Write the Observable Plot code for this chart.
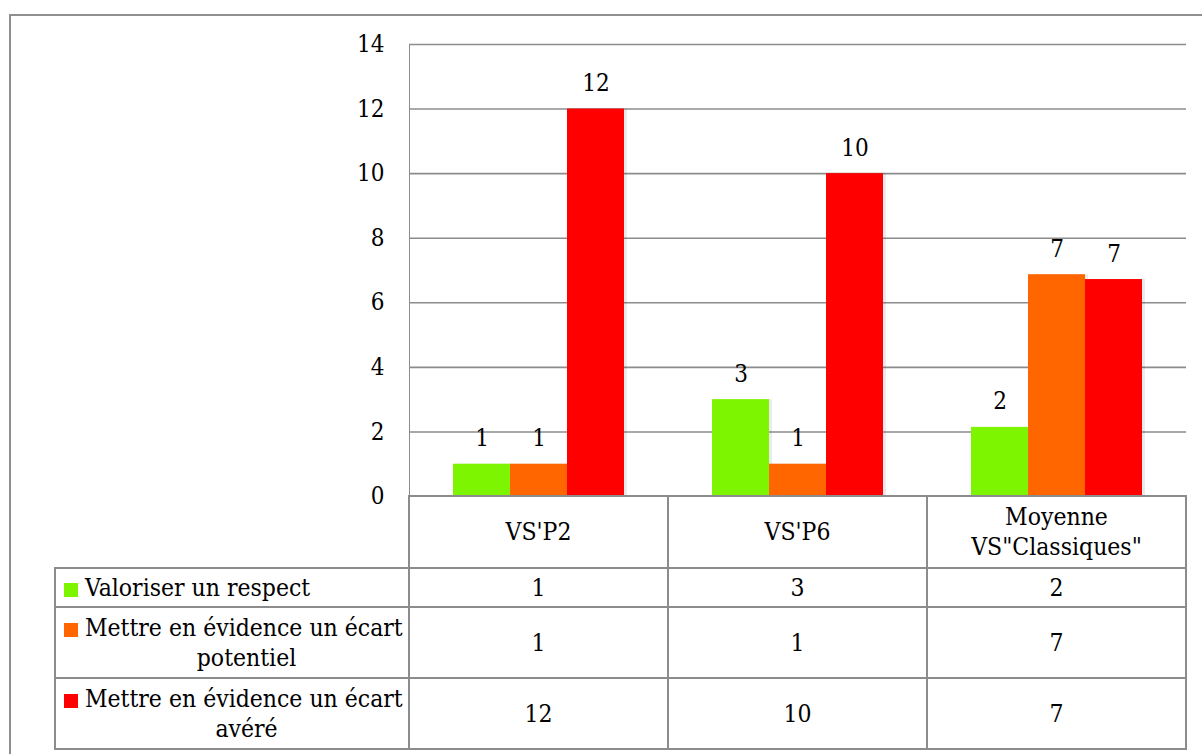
<!DOCTYPE html>
<html>
<head>
<meta charset="utf-8">
<script src="https://cdn.jsdelivr.net/npm/d3@7"></script>
<script src="https://cdn.jsdelivr.net/npm/@observablehq/plot@0.6"></script>
<style>
  html, body { margin: 0; padding: 0; background: #fff; overflow: hidden; }
  #wrap { position: relative; width: 1202px; height: 754px; overflow: hidden;
          font-family: "DejaVu Serif Condensed", "DejaVu Serif", serif; font-stretch: condensed; }
  #frame { position: absolute; left: 9px; top: 14px; width: 1300px; height: 900px;
           border: 2px solid #8f8f8f; box-sizing: border-box; }
  #chart { position: absolute; left: 0; top: 0; }
  #chart svg text { fill: #000; }
  .cell { position: absolute; box-sizing: border-box; border: 2px solid #8c8c8c;
          display: flex; align-items: center; justify-content: center; text-align: center;
          font-size: 24.5px; line-height: 30px; color: #000; background: #fff; white-space: nowrap; }
  .lab { justify-content: flex-start; text-align: left; padding-left: 8px; padding-right: 0; }
  .lab .txt { width: 100%; }
  .sw { display: inline-block; width: 14px; height: 14px; margin-right: 7px; vertical-align: -1px; }
  .l2 { text-align: center; padding-left: 21px; }
</style>
</head>
<body>
<div id="wrap">
  <div id="frame"></div>
  <div id="chart"></div>
  <div id="table"></div>
</div>
<script>
// ---- data ----
const categories = ["VS'P2", "VS'P6", "Moyenne\nVS\"Classiques\""];
const series = [
  "Valoriser un respect",
  "Mettre en évidence un écart\npotentiel",
  "Mettre en évidence un écart\navéré"
];
const valoriser = [1, 3, 2.14];
const potentiel = [1, 1, 6.87];
const avere = [12, 10, 6.72];
const colors = ["#7DF500", "#FF6600", "#FF0000"];
const yTicks = [0, 2, 4, 6, 8, 10, 12, 14];

const seriesValues = [valoriser, potentiel, avere];
const data = categories.flatMap((c, i) =>
  series.map((s, j) => ({category: c, series: s, value: seriesValues[j][i]})));

const FONT = '"DejaVu Serif Condensed", "DejaVu Serif", serif';

const chart = Plot.plot({
  width: 1202,
  height: 498,
  marginLeft: 408,
  marginRight: 15,
  marginTop: 44,
  marginBottom: 2,
  style: {fontFamily: FONT, fontSize: "24px", fontStretch: "condensed", color: "#8c8c8c", background: "transparent", overflow: "visible"},
  facet: {data, x: "category"},
  fx: {domain: categories, padding: 0, axis: null},
  x: {domain: series, paddingInner: 0, paddingOuter: 0.74, axis: null},
  y: {domain: [0, 14], ticks: yTicks, tickSize: 0, tickPadding: 25, line: true, label: null},
  color: {domain: series, range: colors},
  marks: [
    Plot.ruleY(yTicks.slice(1), {stroke: "#8c8c8c", strokeWidth: 1.6}),
    Plot.barY(data, {x: "series", y: "value", fill: "#000", fillOpacity: 0.08, dx: 3}),
    Plot.barY(data, {x: "series", y: "value", fill: "series"}),
    Plot.text(data, {x: "series", y: "value", text: d => String(Math.round(d.value)),
                     lineAnchor: "bottom", dy: -18, fill: "#000"}),
    Plot.ruleY([0], {stroke: "#8c8c8c", strokeWidth: 2})
  ]
});
document.getElementById("chart").appendChild(chart);

// ---- data table below the chart, aligned on the fx scale ----
const table = document.getElementById("table");
let fx;
try { fx = chart.scale("fx"); } catch (e) { fx = null; }
const bw = fx && fx.bandwidth ? fx.bandwidth : (1187 - 408) / 3;
const colLeft = c => (fx && fx.apply ? fx.apply(c) : 408 + categories.indexOf(c) * bw);
const tableLeft = 55;
const headerTop = 496, headerH = 72;
const rowTops = [568, 607, 678];
const rowHs = [39, 71, 71];

function cell(x, y, w, h, cls) {
  const d = document.createElement("div");
  d.className = "cell" + (cls ? " " + cls : "");
  d.style.left = (x - 1) + "px";
  d.style.top = (y - 1) + "px";
  d.style.width = (w + 2) + "px";
  d.style.height = (h + 2) + "px";
  table.appendChild(d);
  return d;
}

categories.forEach(c => {
  const d = cell(colLeft(c), headerTop, bw, headerH);
  d.innerHTML = c.split("\n").map(t => `<div>${t.replace(/</g, "&lt;")}</div>`).join("");
  d.style.flexDirection = "column";
});

series.forEach((s, j) => {
  const first = colLeft(categories[0]);
  const d = cell(tableLeft, rowTops[j], first - tableLeft, rowHs[j], "lab");
  const lines = s.split("\n");
  const txt = document.createElement("div");
  txt.className = "txt";
  const l1 = document.createElement("div");
  const sw = document.createElement("span");
  sw.className = "sw";
  sw.style.background = colors[j];
  l1.appendChild(sw);
  l1.appendChild(document.createTextNode(lines[0]));
  txt.appendChild(l1);
  if (lines[1]) {
    const l2 = document.createElement("div");
    l2.className = "l2";
    l2.textContent = lines[1];
    txt.appendChild(l2);
  }
  d.appendChild(txt);
  categories.forEach((c, i) => {
    const v = cell(colLeft(c), rowTops[j], bw, rowHs[j]);
    v.textContent = String(Math.round(seriesValues[j][i]));
  });
});
</script>
</body>
</html>
